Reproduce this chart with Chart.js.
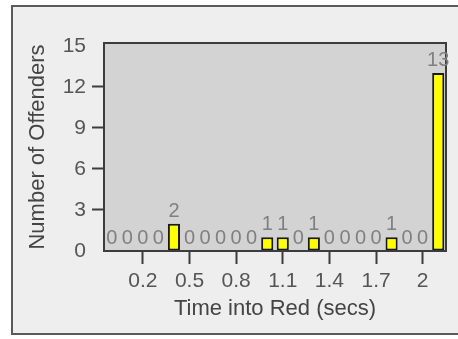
<!DOCTYPE html>
<html lang="en">
<head>
    <meta charset="UTF-8">
    <title>Number of Offenders by Time into Red</title>
    <script src="https://cdn.jsdelivr.net/npm/chart.js"></script>
    <style>
        body {
            margin: 0;
            background: #ffffff;
        }
        .panel {
            position: absolute;
            left: 11px;
            top: 5px;
            width: 447px;
            height: 326px;
            background: #eeeeee;
            border-top: 2px solid #5a5a5a;
            border-left: 2px solid #5a5a5a;
            border-bottom: 2px solid #5a5a5a;
        }
        #chart {
            position: absolute;
            left: 0;
            top: 0;
        }
    </style>
</head>
<body>
    <div class="panel"></div>
    <canvas id="chart" width="458" height="339"></canvas>

    <script>
        // Datos
        const times = [0, 0.1, 0.2, 0.3, 0.4, 0.5, 0.6, 0.7, 0.8, 0.9, 1.0,
                       1.1, 1.2, 1.3, 1.4, 1.5, 1.6, 1.7, 1.8, 1.9, 2.0, 2.1];
        const offenders = [0, 0, 0, 0, 2, 0, 0, 0, 0, 0, 1,
                           1, 0, 1, 0, 0, 0, 0, 1, 0, 0, 13];
        const xTickValues = [0.2, 0.5, 0.8, 1.1, 1.4, 1.7, 2];
        const yTickValues = [0, 3, 6, 9, 12, 15];

        const fontFamily = '"Liberation Sans", Arial, sans-serif';

        // Fondo gris del area de trazado y marco
        const plotFrame = {
            id: 'plotFrame',
            beforeDraw(chart) {
                const { ctx, chartArea: a } = chart;
                ctx.save();
                ctx.fillStyle = '#d3d3d3';
                ctx.fillRect(a.left, a.top, a.right - a.left, a.bottom - a.top);
                ctx.restore();
            },
            afterDatasetsDraw(chart) {
                const { ctx, chartArea: a } = chart;
                ctx.save();
                ctx.strokeStyle = '#3c3c3c';
                ctx.lineWidth = 2;
                ctx.strokeRect(a.left, a.top, a.right - a.left, a.bottom - a.top);

                // Etiquetas de valor sobre cada barra
                ctx.fillStyle = '#808080';
                ctx.font = '20px ' + fontFamily;
                ctx.textAlign = 'center';
                ctx.textBaseline = 'alphabetic';
                const meta = chart.getDatasetMeta(0);
                meta.data.forEach((bar, i) => {
                    ctx.fillText(String(offenders[i]), bar.x, bar.y - 7);
                });
                ctx.restore();
            }
        };

        new Chart(document.getElementById('chart'), {
            type: 'bar',
            data: {
                datasets: [{
                    data: times.map((t, i) => ({ x: t, y: offenders[i] })),
                    backgroundColor: '#ffff00',
                    borderColor: '#1a1a1a',
                    borderWidth: ctx => (offenders[ctx.dataIndex] === 0 ? 0 : 2),
                    borderSkipped: false,
                    barPercentage: 1,
                    categoryPercentage: 0.78
                }]
            },
            options: {
                responsive: false,
                animation: false,
                layout: { padding: { top: 43, right: 12, left: 0, bottom: 0 } },
                plugins: {
                    legend: { display: false },
                    tooltip: { enabled: false }
                },
                scales: {
                    x: {
                        type: 'linear',
                        offset: false,
                        min: -0.05,
                        max: 2.15,
                        afterBuildTicks: scale => {
                            scale.ticks = xTickValues.map(v => ({ value: v }));
                        },
                        afterFit: scale => { scale.height = 88; },
                        border: { display: false },
                        grid: {
                            offset: false,
                            drawOnChartArea: false,
                            drawTicks: true,
                            tickLength: 13,
                            tickWidth: 2,
                            tickColor: '#3c3c3c'
                        },
                        ticks: {
                            color: '#555555',
                            padding: 5,
                            maxRotation: 0,
                            autoSkip: false,
                            font: { family: fontFamily, size: 21 },
                            callback: v => String(+v.toFixed(1))
                        },
                        title: {
                            display: true,
                            text: 'Time into Red (secs)',
                            color: '#444444',
                            font: { family: fontFamily, size: 22 },
                            padding: { top: 0, bottom: 17 }
                        }
                    },
                    y: {
                        min: 0,
                        max: 15.2,
                        afterBuildTicks: scale => {
                            scale.ticks = yTickValues.map(v => ({ value: v }));
                        },
                        afterFit: scale => { scale.width = 104; },
                        border: { display: false },
                        grid: {
                            drawOnChartArea: false,
                            drawTicks: true,
                            tickLength: 12,
                            tickWidth: 2,
                            tickColor: ctx => (ctx.tick && (ctx.tick.value === 0 || ctx.tick.value === 15)
                                ? 'rgba(0,0,0,0)' : '#3c3c3c')
                        },
                        ticks: {
                            color: '#555555',
                            padding: 6,
                            font: { family: fontFamily, size: 21 }
                        },
                        title: {
                            display: true,
                            text: 'Number of Offenders',
                            color: '#444444',
                            font: { family: fontFamily, size: 22 },
                            padding: { top: 25, bottom: 0 }
                        }
                    }
                }
            },
            plugins: [plotFrame]
        });
    </script>
</body>
</html>
